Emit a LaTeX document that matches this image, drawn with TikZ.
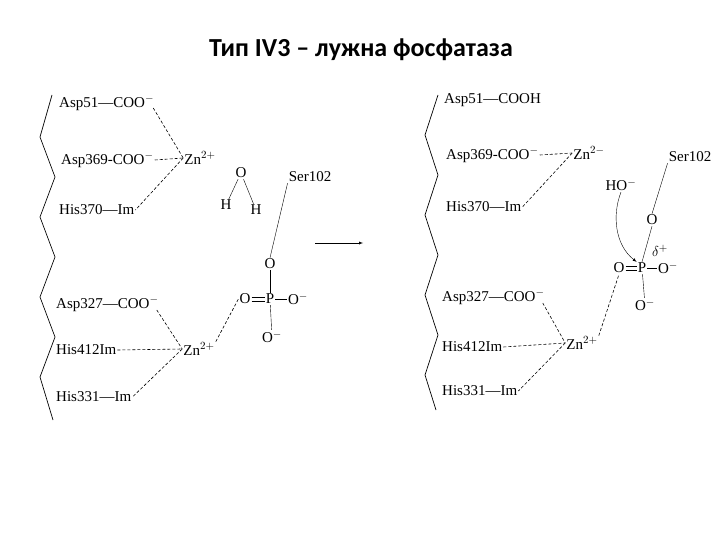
\documentclass[tikz,border=0pt]{standalone}
\usepackage{fontspec}
\setmainfont{Liberation Serif}
\newfontfamily\titlefont{Carlito}
\begin{document}
\begin{tikzpicture}[x=1pt,y=-1pt,
  lbl/.style={inner sep=1pt,font=\fontsize{15}{17}\selectfont},
  dsh/.style={densely dashed,line width=0.6pt},
  bnd/.style={line width=0.7pt}]
\useasboundingbox (0,0) rectangle (720,540);
\node[font=\titlefont\fontsize{26}{30}\selectfont\bfseries] (title) at (361,50) {Тип IV3 – лужна фосфатаза};
% left zigzag
\draw[bnd] (52,95) -- (40,137) -- (55,177) -- (40,217) -- (55,257) -- (40,297) -- (55,337) -- (40,377) -- (53,420);
% left panel
\node[lbl,anchor=west] (a51) at (58,103) {Asp51—COO$^{-}$};
\node[lbl,anchor=west] (a369) at (60,160) {Asp369-COO$^{-}$};
\node[lbl] (zn1) at (200,158) {Zn$^{2+}$};
\node[lbl,anchor=west] (h370) at (58,210) {His370—Im};
\node[lbl] (ow) at (241,173) {O};
\node[lbl] (h1) at (226,205) {H};
\node[lbl] (h2) at (256,210) {H};
\node[lbl] (ser1) at (310,177) {Ser102};
\node[lbl] (o1) at (270,264) {O};
\node[lbl] (p1) at (270,299) {P};
\node[lbl] (oeq1) at (245,299) {O};
\node[lbl] (or1) at (298,299) {O$^{-}$};
\node[lbl] (ob1) at (272,337) {O$^{-}$};
\node[lbl,anchor=west] (a327) at (55,304) {Asp327—COO$^{-}$};
\node[lbl] (zn2) at (199,349) {Zn$^{2+}$};
\node[lbl,anchor=west] (h412) at (55,350) {His412Im};
\node[lbl,anchor=west] (h331) at (55,397) {His331—Im};
\draw[dsh] (a51.east) ++(-2,5) -- (zn1.west);
\draw[dsh] (a369.east) -- (zn1.west);
\draw[dsh] (zn1.west) -- (h370.east);
\draw[dsh] (a327.east) ++(-3,6) -- (zn2.west);
\draw[dsh] (h412.east) -- (zn2.west);
\draw[dsh] (zn2.west) -- (h331.east);
\draw[dsh] (zn2.north east) -- (oeq1.west);
\draw (ow) -- (h1); \draw (ow) -- (h2);
\draw (ser1.south west) -- (o1.north);
\draw (o1) -- (p1); \draw (p1) -- (ob1);
\draw (p1) -- (or1);
\draw ([yshift=-1.8]oeq1.east) -- ([yshift=-1.8]p1.west);
\draw ([yshift=1.8]oeq1.east) -- ([yshift=1.8]p1.west);
\coordinate (ar1) at (315,243); \coordinate (ar2) at (363,243);
\draw[-latex] (ar1) -- (ar2);
% right zigzag
\draw[bnd] (438,95) -- (425,135) -- (438,175) -- (425,215) -- (438,255) -- (425,295) -- (438,335) -- (425,375) -- (436,410);
\node[lbl,anchor=west] (b51) at (443,100) {Asp51—COOH};
\node[lbl,anchor=west] (b369) at (445,155) {Asp369-COO$^{-}$};
\node[lbl] (zn3) at (589,153) {Zn$^{2-}$};
\node[lbl,anchor=west] (b370) at (445,207) {His370—Im};
\node[lbl] (ser2) at (690,157) {Ser102};
\node[lbl] (ho) at (621,185) {HO$^{-}$};
\node[lbl] (o2) at (652,220) {O};
\node[lbl] (oeq2) at (619,268) {O};
\node[lbl] (p2) at (642,268) {P};
\node[lbl] (or2) at (668,268) {O$^{-}$};
\node[lbl] (dl) at (660,251) {$\delta^{+}$};
\node[lbl] (ob2) at (645,305) {O$^{-}$};
\node[lbl,anchor=west] (b327) at (441,297) {Asp327—COO$^{-}$};
\node[lbl] (zn4) at (582,343) {Zn$^{2+}$};
\node[lbl,anchor=west] (b412) at (441,347) {His412Im};
\node[lbl,anchor=west] (b331) at (441,391) {His331—Im};
\draw[dsh] (b369.east) -- (zn3.west);
\draw[dsh] (zn3.west) -- (b370.east);
\draw[dsh] (b327.east) ++(-3,6) -- (zn4.west);
\draw[dsh] (b412.east) -- (zn4.west);
\draw[dsh] (zn4.west) -- (b331.east);
\draw[dsh] (zn4.north east) -- (oeq2.south);
\draw (ser2.south west) -- (o2.north);
\draw (o2.south) -- (p2.north);
\draw (p2) -- (or2); \draw (p2) -- (ob2);
\draw ([yshift=-1.8]oeq2.east) -- ([yshift=-1.8]p2.west);
\draw ([yshift=1.8]oeq2.east) -- ([yshift=1.8]p2.west);
\draw[-latex] (ho.south) .. controls (612,215) and (615,245) .. (p2.north west);
\end{tikzpicture}
\end{document}
